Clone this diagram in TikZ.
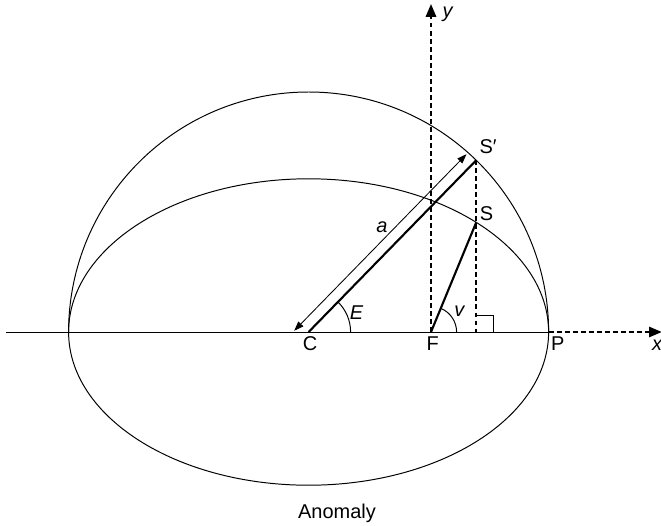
\documentclass[tikz,border=0pt]{standalone}
\usepackage{fontspec}
\setmainfont{Liberation Sans}
\usetikzlibrary{arrows.meta,calc}

\begin{document}
\begin{tikzpicture}[
        >={Triangle[length=0.32cm,width=0.26cm]},
        line width=0.7pt,
        every node/.style={font=\fontsize{14.2}{17}\selectfont, inner sep=0pt},
        asse/.style={line width=1.2pt, dash pattern=on 3.5pt off 2.2pt},
        raggio/.style={line width=1.5pt},
        quota/.style={line width=0.6pt,
            {Triangle[length=0.24cm,width=0.17cm]}-{Triangle[length=0.24cm,width=0.17cm]}}
    ]

        \useasboundingbox (-7.715,-4.825) rectangle (8.81,8.3);

        \coordinate (C) at (0,0);
        \coordinate (F) at (3.06,0);
        \coordinate (P) at (6,0);
        \coordinate (Sp) at (45.7:6);
        \coordinate (S) at ({6*cos(45.7)},{3.83*sin(45.7)});
        \coordinate (H) at ({6*cos(45.7)},0);
        \coordinate (X0) at (-7.56,0);
        \coordinate (X1) at (8.83,0);
        \coordinate (Y1) at (3.06,8.2);

        % Ellisse e cerchio ausiliario
        \draw (C) ellipse [x radius=6, y radius=3.83];
        \draw (P) arc (0:180:6);

        % Assi
        \draw (X0) -- (P);
        \draw[asse, ->] (P) -- (X1);
        \draw[asse, ->] (F) -- (Y1);
        \node (lx) at (8.72,-0.34) {\textit{x}};
        \node (ly) at (3.485,7.95) {\textit{y}};

        % Anomalia eccentrica e vera
        \draw[raggio] (C) -- (Sp);
        \draw[raggio] (F) -- (S);
        \draw[asse] (Sp) -- (H);
        \draw ($(H)+(0,0.425)$) -| ($(H)+(0.425,0)$);

        % Semiasse a
        \coordinate (a1) at ($(C)+(225.7:0.23)+(135.7:0.28)$);
        \coordinate (a2) at ($(Sp)+(225.7:0.06)+(135.7:0.28)$);
        \draw[quota] (a1) -- (a2);
        \node (la) at (1.83,2.61) {\textit{a}};

        % Angoli
        \draw ($(C)+(1.05,0)$) arc (0:45.7:1.05);
        \node (lE) at (1.2,0.48) {\textit{E}};
        \draw ($(F)+(0.64,0)$) arc (0:67.6:0.64);
        \node (lv) at (3.78,0.51) {\textit{v}};

        % Punti
        \node (lC) at (0.035,-0.3) {C};
        \node (lF) at (3.1,-0.28) {F};
        \node (lP) at (6.23,-0.28) {P};
        \node (lS) at (4.45,2.97) {S};
        \node (lSp) at (4.49,4.63) {S′};

        \node (titolo) at (0.71,-4.53) {Anomaly};

    \end{tikzpicture}
\end{document}
